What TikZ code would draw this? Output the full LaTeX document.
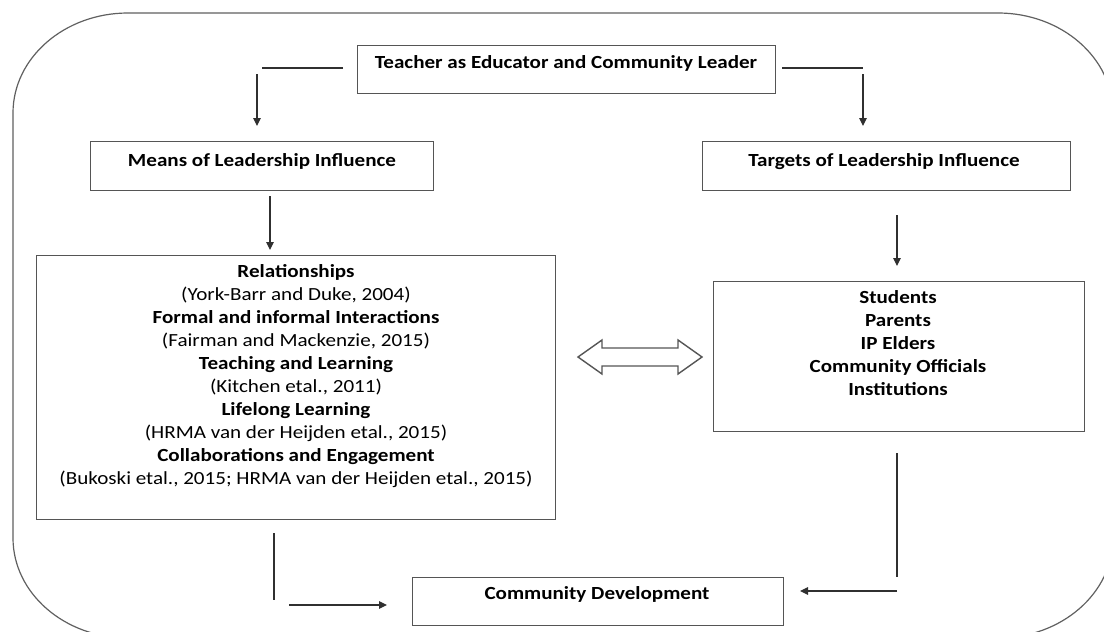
\documentclass[tikz,border=0pt]{standalone}
\usepackage{fontspec}
\setmainfont{Carlito}[FakeStretch=1.14]
\usetikzlibrary{arrows.meta,calc}
\definecolor{boxgray}{HTML}{555555}
\definecolor{framegray}{HTML}{606060}
\definecolor{linegray}{HTML}{303030}
\begin{document}
\begin{tikzpicture}[x=1pt,y=-1pt,
  box/.style={draw=boxgray, line width=1.4pt, inner sep=0pt, anchor=north west, shape=rectangle},
  txt/.style={inner sep=0pt, align=center, font=\fontsize{18.5}{23}\selectfont},
  ln/.style={draw=linegray, line width=1.1pt},
  arr/.style={draw=linegray, line width=1.1pt, -{Triangle[length=8pt,width=7.5pt]}},
  blockarrow/.style={draw=boxgray, line width=1.4pt, fill=white, line join=miter}
]
\useasboundingbox (0,0) rectangle (1104,632);
\clip (0,0) rectangle (1104,632);
% outer rounded frame
\draw[framegray, line width=1.2pt]
  (13,113) .. controls (13,57.8) and (64.5,13) .. (128,13)
  -- (998,13) .. controls (1061.5,13) and (1113,57.8) .. (1113,113)
  -- (1113,538) .. controls (1113,593.2) and (1061.5,638) .. (998,638)
  -- (128,638) .. controls (64.5,638) and (13,593.2) .. (13,538) -- cycle;

% boxes
\node[box, minimum width=418pt, minimum height=48pt] (T) at (357,45) {};
\node[box, minimum width=343pt, minimum height=49pt] (M) at (90,141) {};
\node[box, minimum width=368pt, minimum height=49pt] (G) at (702,141) {};
\node[box, minimum width=519pt, minimum height=264pt] (L) at (36,255) {};
\node[box, minimum width=371pt, minimum height=150pt] (R) at (713,281) {};
\node[box, minimum width=371pt, minimum height=48pt] (C) at (412,577) {};

% texts
\node[txt, anchor=base] (Tt) at (566,68.5) {\textbf{Teacher as Educator and Community Leader}};
\node[txt, anchor=base] (Mt) at (262,166) {\textbf{Means of Leadership Influence}};
\node[txt, anchor=base] (Gt) at (884,166) {\textbf{Targets of Leadership Influence}};
\node[txt, anchor=base] (Ct) at (597,599) {\textbf{Community Development}};
\node[txt, anchor=north] (Lt) at (296,264) {\textbf{Relationships}\\
(York-Barr and Duke, 2004)\\
\textbf{Formal and informal Interactions}\\
(Fairman and Mackenzie, 2015)\\
\textbf{Teaching and Learning}\\
(Kitchen etal., 2011)\\
\textbf{Lifelong Learning}\\
(HRMA van der Heijden etal., 2015)\\
\textbf{Collaborations and Engagement}\\
(Bukoski etal., 2015; HRMA van der Heijden etal., 2015)};
\node[txt, anchor=north] (Rt) at (898,290) {\textbf{Students}\\
\textbf{Parents}\\
\textbf{IP Elders}\\
\textbf{Community Officials}\\
\textbf{Institutions}};

% connector coordinates
\coordinate (a1) at (343,68);  \coordinate (a2) at (262,68);
\coordinate (a3) at (257,74);  \coordinate (a4) at (257,126);
\coordinate (b1) at (782,68);  \coordinate (b2) at (863,68);
\coordinate (b3) at (863,74);  \coordinate (b4) at (863,126);
\coordinate (c1) at (270,196); \coordinate (c2) at (270,250);
\coordinate (d1) at (897,215); \coordinate (d2) at (897,266);
\coordinate (e1) at (274,533); \coordinate (e2) at (274,600);
\coordinate (e3) at (289,605); \coordinate (e4) at (387,605);
\coordinate (f1) at (897,453); \coordinate (f2) at (897,577);
\coordinate (f3) at (897,591); \coordinate (f4) at (800,591);
\coordinate (dac) at (640,357);

% connectors
\draw[ln] (a1) -- (a2);
\draw[arr] (a3) -- (a4);
\draw[ln] (b1) -- (b2);
\draw[arr] (b3) -- (b4);
\draw[arr] (c1) -- (c2);
\draw[arr] (d1) -- (d2);
\draw[ln] (e1) -- (e2);
\draw[arr] (e3) -- (e4);
\draw[ln] (f1) -- (f2);
\draw[arr] (f3) -- (f4);

% double block arrow between L and R
\draw[blockarrow, shift={(dac)}]
  (-62,0) -- (-38,-17) -- (-38,-9) -- (38,-9) -- (38,-17) -- (62,0)
  -- (38,17) -- (38,9) -- (-38,9) -- (-38,17) -- cycle;
\end{tikzpicture}
\end{document}
